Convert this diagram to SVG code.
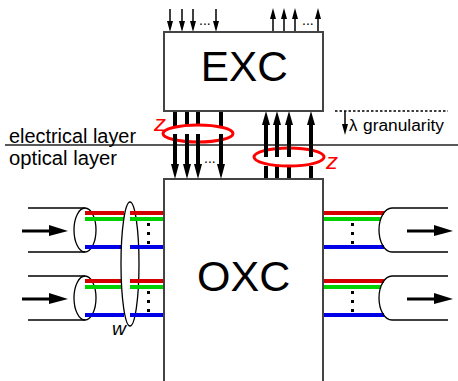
<svg xmlns="http://www.w3.org/2000/svg" width="458" height="381" viewBox="0 0 458 381">
<style>
text{font-family:"Liberation Sans",Arial,sans-serif;fill:#000}
.box{fill:#fff;stroke:#444;stroke-width:2}
.thin{stroke:#111;stroke-width:1.6;fill:none}
.thick{stroke:#000;stroke-width:4;fill:none}
.fib{stroke:#000;stroke-width:1.3;fill:none}
.mid{stroke:#000;stroke-width:3;fill:none}
.r{stroke:#d40000;stroke-width:4}
.g{stroke:#00d000;stroke-width:4}
.b{stroke:#0000e6;stroke-width:4}
.z{fill:#ff0000;font-style:italic;font-size:22px}
.dot{fill:#000}
.hs{fill:#000}
</style>
<rect width="458" height="381" fill="#fff"/>
<g id="connectors">
<g>
<path class="thin" d="M170 9V22M182 9V22M193 9V22M216 9V22"/>
<path class="hs" d="M167 21h6l-3 11zM179 21h6l-3 11zM190 21h6l-3 11zM213 21h6l-3 11z"/>
<path class="thin" d="M273 31V15M284 31V15M295 31V15M318 31V15"/>
<path class="hs" d="M270 19h6l-3-11zM281 19h6l-3-11zM292 19h6l-3-11zM315 19h6l-3-11z"/>
</g>
<line x1="5" y1="145" x2="458" y2="145" stroke="#222" stroke-width="1.6"/>
<path d="M335 111H448" stroke="#000" stroke-width="1.3" stroke-dasharray="2.5 2" fill="none"/>
<path class="thin" d="M345 111V126"/><path class="hs" d="M342 124h6l-3 11z"/>
<path class="thick" d="M175 111V128M187 111V128M198 111V128M221 111V128"/>
<ellipse cx="198" cy="133.500" rx="35" ry="8.500" fill="#fff" stroke="#f00" stroke-width="3"/>
<path class="thick" d="M175 134V166M187 134V166M198 134V166M221 134V166"/>
<path class="hs" d="M171 164h8l-4 15zM183 164h8l-4 15zM194 164h8l-4 15zM217 164h8l-4 15z"/>
<path class="thick" d="M266 166V179M277 166V179M289 166V179M311 166V179"/>
<ellipse cx="289" cy="157" rx="35" ry="9" fill="#fff" stroke="#f00" stroke-width="3"/>
<path class="thick" d="M266 157V123M277 157V123M289 157V123M311 157V123"/>
<path class="hs" d="M262 125h8l-4-14zM273 125h8l-4-14zM285 125h8l-4-14zM307 125h8l-4-14z"/>
<path class="fib" d="M28 208H85M28 252H85M28 276H85M28 320H85"/>
<ellipse class="fib" cx="85" cy="230" rx="11" ry="22"/>
<ellipse class="fib" cx="85" cy="298" rx="11" ry="22"/>
<path class="r" d="M85 213H124M85 281H124"/>
<path class="g" d="M85 219H124M85 287H124"/>
<path class="b" d="M85 247H124M85 315H124"/>
<ellipse cx="130" cy="264" rx="9" ry="62" fill="#fff" stroke="#000" stroke-width="1.3"/>
<path class="r" d="M130 213H164M130 281H164"/>
<path class="g" d="M130 219H164M130 287H164"/>
<path class="b" d="M130 247H164M130 315H164"/>
<path class="mid" d="M22 231H52M22 299H52"/>
<path class="hs" d="M49 225L68 231L49 236zM49 293L68 299L49 304z"/>
<path class="r" d="M323 213H384M323 281H384"/>
<path class="g" d="M323 219H381M323 287H381"/>
<path class="b" d="M323 247H384M323 315H384"/>
<path class="fib" d="M448 208H392A13 22 0 0 0 392 252H448M448 276H392A13 22 0 0 0 392 320H448"/>
<path class="mid" d="M407 231H438M407 299H438"/>
<path class="hs" d="M434 225L453 231L434 236zM434 293L453 299L434 304z"/>
<path class="dot" d="M147 223h3v3h-3zM147 232h3v3h-3zM147 241h3v3h-3zM147 291h3v3h-3zM147 300h3v3h-3zM147 309h3v3h-3zM351 223h3v3h-3zM351 232h3v3h-3zM351 241h3v3h-3zM351 291h3v3h-3zM351 300h3v3h-3zM351 309h3v3h-3z"/>
</g>
<g id="exc">
<rect class="box" x="164" y="32" width="159" height="79"/>
<text x="200.700" y="81" font-size="43" textLength="87" lengthAdjust="spacingAndGlyphs">EXC</text>
</g>
<g id="oxc">
<path class="box" d="M164 382V179H323V382"/>
<text x="197" y="291" font-size="43">OXC</text>
</g>
<g id="labels">
<text x="9" y="143" font-size="20" textLength="127" lengthAdjust="spacingAndGlyphs">electrical layer</text>
<text x="9" y="165" font-size="20" textLength="108" lengthAdjust="spacingAndGlyphs">optical layer</text>
<text x="349" y="131" font-size="17">λ</text>
<text x="363" y="131" font-size="16" textLength="81" lengthAdjust="spacingAndGlyphs">granularity</text>
<text class="z" x="154" y="131" textLength="12" lengthAdjust="spacingAndGlyphs">z</text>
<text class="z" x="326" y="169" textLength="12" lengthAdjust="spacingAndGlyphs">z</text>
<text x="112" y="335" font-size="19" font-style="italic" fill="#333" textLength="14" lengthAdjust="spacingAndGlyphs">w</text>
<text x="199" y="25" font-size="14">...</text>
<text x="302" y="25" font-size="14">...</text>
<text x="204" y="163" font-size="14">...</text>
</g>
</svg>
